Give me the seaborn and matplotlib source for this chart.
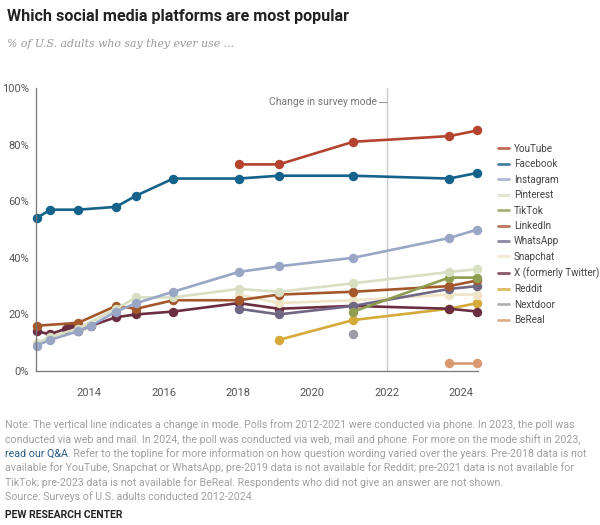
import matplotlib
matplotlib.use("Agg")
import matplotlib.pyplot as plt
from matplotlib.lines import Line2D
import numpy as np
import pandas as pd
import seaborn as sns

# survey dates (decimal years) and shares (% of U.S. adults)
yt_x = [2018.02, 2019.10, 2021.10, 2023.68, 2024.44]
yt_y = [73, 73, 81, 83, 85]
fb_x = [2012.59, 2012.95, 2013.70, 2014.72, 2015.27, 2016.26, 2018.02, 2019.10, 2021.10, 2023.68, 2024.44]
fb_y = [54, 57, 57, 58, 62, 68, 68, 69, 69, 68, 70]
ig_x = [2012.59, 2012.95, 2013.70, 2014.05, 2014.72, 2015.27, 2016.26, 2018.02, 2019.10, 2021.10, 2023.68, 2024.44]
ig_y = [9, 11, 14, 16, 21, 24, 28, 35, 37, 40, 47, 50]
pin_x = [2012.59, 2012.95, 2013.70, 2014.72, 2015.27, 2016.26, 2018.02, 2019.10, 2021.10, 2023.68, 2024.44]
pin_y = [10, 12, 15, 22, 26, 26, 29, 28, 31, 35, 36]
tt_x = [2021.10, 2023.68, 2024.44]
tt_y = [21, 33, 33]
li_x = [2012.59, 2013.70, 2014.72, 2015.27, 2016.26, 2018.02, 2019.10, 2021.10, 2023.68, 2024.44]
li_y = [16, 17, 23, 22, 25, 25, 27, 28, 30, 32]
wa_x = [2018.02, 2019.10, 2021.10, 2023.68, 2024.44]
wa_y = [22, 20, 23, 29, 30]
sc_x = [2018.02, 2019.10, 2021.10, 2023.68, 2024.44]
sc_y = [27, 24, 25, 27, 27]
tw_x = [2012.59, 2012.95, 2013.38, 2013.53, 2013.70, 2014.05, 2014.72, 2015.27, 2016.26, 2018.02, 2019.10, 2021.10, 2023.68, 2024.44]
tw_y = [14, 13, 15, 16, 14, 16, 19, 20, 21, 24, 22, 23, 22, 21]
rd_x = [2019.10, 2021.10, 2023.68, 2024.44]
rd_y = [11, 18, 22, 24]
nd_x = [2021.10]
nd_y = [13]
br_x = [2023.68, 2024.44]
br_y = [3, 3]

platforms = ["YouTube", "Facebook", "Instagram", "Pinterest", "TikTok", "LinkedIn",
             "WhatsApp", "Snapchat", "X (formerly Twitter)", "Reddit", "Nextdoor", "BeReal"]
colors = ["#b4432f", "#15628a", "#99a6c6", "#d8dfc3", "#8f9d50", "#a3572b",
          "#6f6784", "#efe4c6", "#6b2d40", "#d5aa3a", "#9d9ca6", "#d99a72"]
series = [(yt_x, yt_y), (fb_x, fb_y), (ig_x, ig_y), (pin_x, pin_y), (tt_x, tt_y), (li_x, li_y),
          (wa_x, wa_y), (sc_x, sc_y), (tw_x, tw_y), (rd_x, rd_y), (nd_x, nd_y), (br_x, br_y)]

rows = []
for name, (xs, ys) in zip(platforms, series):
    for a, b in zip(xs, ys):
        rows.append({"year": a, "pct": b, "platform": name})
df = pd.DataFrame(rows)

sns.set_theme(style="white")
plt.rcParams['font.family'] = ['Roboto', 'DejaVu Sans']

fig = plt.figure(figsize=(6, 5.25), dpi=100)
ax = fig.add_axes([0.06, 1 - 371 / 525, 0.737, (371 - 88) / 525])

# draw back to front so the big platforms sit on top
order = platforms[::-1]
pal = dict(zip(platforms, colors))
sns.lineplot(data=df, x="year", y="pct", hue="platform", hue_order=order, palette=pal,
             marker="o", markersize=6.8, markeredgewidth=0, linewidth=1.9,
             errorbar=None, legend=False, ax=ax, clip_on=False)

ax.axvline(2022, color="#cccccc", lw=1, zorder=0)
ax.text(2021.75, 95, "Change in survey mode", ha="right", va="center", fontsize=7.5, color="#777777")
ax.plot([2021.8, 2022], [95, 95], color="#999999", lw=0.8)

ax.set_xlim(2012.57, 2024.46)
ax.set_ylim(0, 100)
ax.set_xticks([2014, 2016, 2018, 2020, 2022, 2024])
ax.set_yticks([0, 20, 40, 60, 80, 100])
ax.set_yticklabels(["0%", "20%", "40%", "60%", "80%", "100%"])
ax.set_xlabel("")
ax.set_ylabel("")
ax.tick_params(axis="both", labelsize=8, colors="#555555", length=4, width=0.8, direction="out")
ax.tick_params(axis="x", pad=8)
ax.tick_params(axis="y", pad=1)
for s in ["top", "right"]:
    ax.spines[s].set_visible(False)
for s in ["left", "bottom"]:
    ax.spines[s].set_color("#777777")
    ax.spines[s].set_linewidth(0.9)

handles = [Line2D([0], [0], color=c, lw=2, alpha=0.8) for c in colors]
fig.legend(handles, platforms, loc="upper left", bbox_to_anchor=(494 / 600, 1 - 140 / 525),
           frameon=False, fontsize=7.1, handlelength=1.1, handletextpad=0.5,
           labelspacing=0.55, borderaxespad=0, labelcolor="#444444")

fig.text(7 / 600, 1 - 16 / 525, "Which social media platforms are most popular", fontsize=11.6,
         fontweight="bold", color="#222222", va="center")
fig.text(7 / 600, 1 - 44 / 525, "% of U.S. adults who say they ever use ...", fontsize=7.8,
         style="italic", family="DejaVu Serif", color="#999999", va="center")

note_color = "#a0a0a0"
note_size = 7.7
notes = [
    "Note: The vertical line indicates a change in mode. Polls from 2012-2021 were conducted via phone. In 2023, the poll was",
    "conducted via web and mail. In 2024, the poll was conducted via web, mail and phone. For more on the mode shift in 2023,",
    None,
    "available for YouTube, Snapchat or WhatsApp; pre-2019 data is not available for Reddit; pre-2021 data is not available for",
    "TikTok; pre-2023 data is not available for BeReal. Respondents who did not give an answer are not shown.",
    "Source: Surveys of U.S. adults conducted 2012-2024.",
]
ys = [425, 439.3, 453.6, 467.9, 482.2, 496.5]
for line, y in zip(notes, ys):
    if line is None:
        t1 = fig.text(5 / 600, 1 - y / 525, "read our Q&A", fontsize=note_size, color="#2b5b86", va="center")
        ax.annotate(". Refer to the topline for more information on how question wording varied over the years. Pre-2018 data is not",
                    xy=(1, 0), xycoords=t1, xytext=(0, 0), textcoords="offset points",
                    ha="left", va="bottom", fontsize=note_size, color=note_color, annotation_clip=False)
    else:
        fig.text(5 / 600, 1 - y / 525, line, fontsize=note_size, color=note_color, va="center")

fig.text(5 / 600, 1 - 515 / 525, "PEW RESEARCH CENTER", fontsize=7.5, fontweight="bold",
         color="#222222", va="center")

fig.savefig("out.png", dpi=100)
